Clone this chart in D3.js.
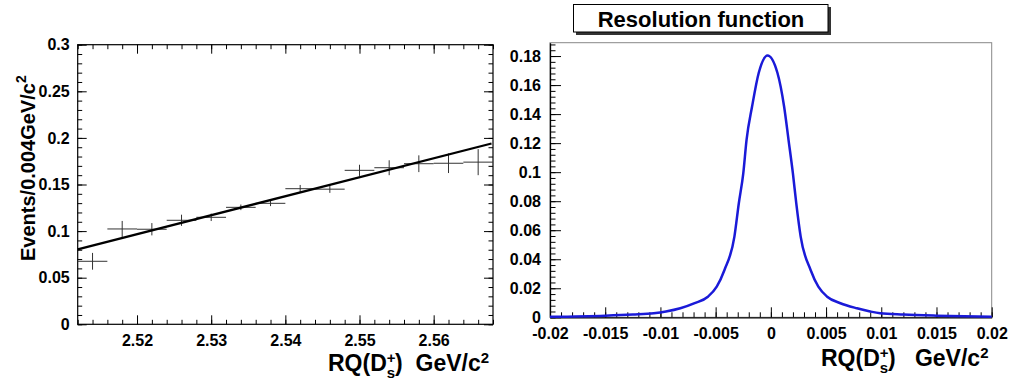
<!DOCTYPE html>
<html>
<head>
<meta charset="utf-8">
<script src="https://cdn.jsdelivr.net/npm/d3@7"></script>
<style>
  body { margin: 0; background: #fff; }
  svg { display: block; font-family: "Liberation Sans", Arial, Helvetica, sans-serif; font-weight: bold; }
  .tick text { font-size: 16px; font-weight: bold; fill: #000; }
</style>
</head>
<body>
<svg id="chart" width="1013" height="383"></svg>
<script>
// ---- left panel: data points + linear fit ----
const binCenters = [2.514, 2.518, 2.522, 2.526, 2.530, 2.534, 2.538, 2.542, 2.546, 2.550, 2.554, 2.558, 2.562, 2.566];
const binValues  = [0.0676, 0.1023, 0.1020, 0.1116, 0.1148, 0.1255, 0.1298, 0.1455, 0.1450, 0.1652, 0.1680, 0.1723, 0.1728, 0.1740];
const binErrors  = [0.0090, 0.0086, 0.0066, 0.0060, 0.0040, 0.0030, 0.0030, 0.0040, 0.0040, 0.0060, 0.0080, 0.0090, 0.0105, 0.0140];
const binHalfWidth = 0.002;
const fitLine = [[2.512, 0.0805], [2.5678, 0.1940]];
const leftXTicks = [2.52, 2.53, 2.54, 2.55, 2.56];
const leftYTicks = [0, 0.05, 0.1, 0.15, 0.2, 0.25, 0.3];

// ---- right panel: resolution function ----
const resX = [-0.020, -0.015, -0.0125, -0.0106, -0.0095, -0.0082, -0.0069, -0.0057, -0.0049, -0.0042, -0.0033, -0.0029, -0.0025, -0.0022, -0.0017, -0.0011, -0.0003,
              0.0006, 0.0012, 0.0016, 0.0020, 0.0023, 0.0027, 0.0036, 0.0043, 0.0051, 0.0063, 0.0078, 0.0090, 0.0099, 0.012, 0.015, 0.020];
const resY = [0.0003, 0.0011, 0.0019, 0.0028, 0.0040, 0.0062, 0.0097, 0.0142, 0.0211, 0.0326, 0.0556, 0.0786, 0.0990, 0.1223, 0.1452, 0.1683, 0.1804,
              0.1683, 0.1452, 0.1223, 0.0990, 0.0786, 0.0556, 0.0326, 0.0211, 0.0142, 0.0097, 0.0062, 0.0040, 0.0028, 0.0019, 0.0011, 0.0003];
const rightXTicks = [-0.02, -0.015, -0.01, -0.005, 0, 0.005, 0.01, 0.015, 0.02];
const rightYTicks = [0, 0.02, 0.04, 0.06, 0.08, 0.1, 0.12, 0.14, 0.16, 0.18];

const svg = d3.select('#chart');
const fmt = v => String(+v.toFixed(3));
const minorRange = (a, b, step) => d3.range(Math.round((b - a) / step) + 1).map(i => +(a + i * step).toFixed(4));

/* left panel */
const L = {x0: 77.7, x1: 493, y0: 44.7, y1: 324.3};
const xL = d3.scaleLinear().domain([2.512, 2.568]).range([L.x0, L.x1]);
const yL = d3.scaleLinear().domain([0, 0.3]).range([L.y1, L.y0]);
const gL = svg.append('g');

gL.append('rect').attr('x', L.x0).attr('y', L.y0).attr('width', L.x1 - L.x0).attr('height', L.y1 - L.y0)
  .attr('fill', 'none').attr('stroke', '#000').attr('stroke-width', 1.2);

// major ticks + labels, inward on all four sides
gL.append('g').attr('transform', `translate(0,${L.y1})`)
  .call(d3.axisBottom(xL).tickValues(leftXTicks).tickFormat(fmt).tickSizeInner(-9).tickSizeOuter(0).tickPadding(10))
  .call(g => g.select('.domain').remove());
gL.append('g').attr('transform', `translate(0,${L.y0})`)
  .call(d3.axisTop(xL).tickValues(leftXTicks).tickFormat('').tickSizeInner(-9).tickSizeOuter(0))
  .call(g => g.select('.domain').remove());
gL.append('g').attr('transform', `translate(${L.x0},0)`)
  .call(d3.axisLeft(yL).tickValues(leftYTicks).tickFormat(fmt).tickSizeInner(-9).tickSizeOuter(0).tickPadding(8))
  .call(g => g.select('.domain').remove());
gL.append('g').attr('transform', `translate(${L.x1},0)`)
  .call(d3.axisRight(yL).tickValues(leftYTicks).tickFormat('').tickSizeInner(-9).tickSizeOuter(0))
  .call(g => g.select('.domain').remove());
// minor ticks
const lxMinor = minorRange(2.512, 2.568, 0.002);
const lyMinor = minorRange(0, 0.3, 0.01);
[[d3.axisBottom, L.y1, xL, lxMinor, 'h'], [d3.axisTop, L.y0, xL, lxMinor, 'h'],
 [d3.axisLeft, L.x0, yL, lyMinor, 'v'], [d3.axisRight, L.x1, yL, lyMinor, 'v']].forEach(([ax, pos, sc, vals, dir]) => {
  gL.append('g').attr('transform', dir === 'h' ? `translate(0,${pos})` : `translate(${pos},0)`)
    .call(ax(sc).tickValues(vals).tickFormat('').tickSizeInner(-4.5).tickSizeOuter(0))
    .call(g => g.select('.domain').remove());
});
gL.selectAll('.tick line').attr('stroke', '#000');

// error bars
const bars = gL.append('g').attr('stroke', '#333').attr('stroke-width', 1);
binCenters.forEach((c, i) => {
  bars.append('line').attr('x1', xL(c - binHalfWidth)).attr('x2', xL(c + binHalfWidth))
    .attr('y1', yL(binValues[i])).attr('y2', yL(binValues[i]));
  bars.append('line').attr('x1', xL(c)).attr('x2', xL(c))
    .attr('y1', yL(binValues[i] - binErrors[i])).attr('y2', yL(binValues[i] + binErrors[i]));
});
// fit line
gL.append('path').datum(fitLine)
  .attr('d', d3.line().x(d => xL(d[0])).y(d => yL(d[1])))
  .attr('fill', 'none').attr('stroke', '#000').attr('stroke-width', 2.3);

// titles
const yTitle = gL.append('text').attr('transform', 'translate(35,261) rotate(-90)')
  .attr('font-size', 20).attr('font-weight', 'bold');
yTitle.append('tspan').text('Events/0.004GeV/c');
yTitle.append('tspan').attr('font-size', 14).attr('dy', -9).text('2');

function xTitle(g, x, y, gap) {
  const t = g.append('text').attr('x', x).attr('y', y).attr('font-size', 23)
    .attr('font-weight', 'bold').style('white-space', 'pre');
  t.append('tspan').text('RQ(D');
  t.append('tspan').attr('font-size', 15).attr('dy', -8).text('+');
  t.append('tspan').attr('font-size', 15).attr('dx', -8.8).attr('dy', 15).text('s');
  t.append('tspan').attr('dy', -7).text(')' + gap + 'GeV/c');
  t.append('tspan').attr('font-size', 15).attr('dy', -8).text('2');
}
xTitle(gL, 328, 371, '  ');

/* right panel */
const R = {x0: 550, x1: 991.7, y0: 42.7, y1: 317.3};
const xR = d3.scaleLinear().domain([-0.02, 0.02]).range([R.x0, R.x1]);
const yR = d3.scaleLinear().domain([0, 0.1892]).range([R.y1, R.y0]);
const gR = svg.append('g');

gR.append('rect').attr('x', R.x0).attr('y', R.y0).attr('width', R.x1 - R.x0).attr('height', R.y1 - R.y0)
  .attr('fill', 'none').attr('stroke', '#888').attr('stroke-width', 1);

gR.append('g').attr('transform', `translate(0,${R.y1})`)
  .call(d3.axisBottom(xR).tickValues(rightXTicks).tickFormat(fmt).tickSizeInner(-10).tickSizeOuter(0).tickPadding(10))
  .call(g => g.select('.domain').attr('stroke', '#000').attr('stroke-width', 1.3));
gR.append('g').attr('transform', `translate(${R.x0},0)`)
  .call(d3.axisLeft(yR).tickValues(rightYTicks).tickFormat(fmt).tickSizeInner(-11).tickSizeOuter(0).tickPadding(9))
  .call(g => g.select('.domain').attr('stroke', '#000').attr('stroke-width', 1.3));
gR.append('g').attr('transform', `translate(0,${R.y1})`)
  .call(d3.axisBottom(xR).tickValues(minorRange(-0.02, 0.02, 0.001)).tickFormat('').tickSizeInner(-5).tickSizeOuter(0))
  .call(g => g.select('.domain').remove());
gR.append('g').attr('transform', `translate(${R.x0},0)`)
  .call(d3.axisLeft(yR).tickValues(minorRange(0, 0.188, 0.004)).tickFormat('').tickSizeInner(-5.5).tickSizeOuter(0))
  .call(g => g.select('.domain').remove());
gR.selectAll('.tick line').attr('stroke', '#000');

gR.append('path').datum(resX.map((x, i) => [x, resY[i]]))
  .attr('d', d3.line().x(d => xR(d[0])).y(d => yR(d[1])).curve(d3.curveMonotoneX))
  .attr('fill', 'none').attr('stroke', '#1a1ad8').attr('stroke-width', 2.5);

xTitle(gR, 821, 366, '   ');

// title box with shadow
gR.append('rect').attr('x', 576).attr('y', 7).attr('width', 255).attr('height', 28).attr('fill', '#333');
gR.append('rect').attr('x', 573.5).attr('y', 4.5).attr('width', 254.5).attr('height', 27.5)
  .attr('fill', '#fff').attr('stroke', '#000').attr('stroke-width', 1);
gR.append('text').attr('x', 701).attr('y', 26.5).attr('text-anchor', 'middle')
  .attr('font-size', 22).attr('font-weight', 'bold').text('Resolution function');
</script>
</body>
</html>
